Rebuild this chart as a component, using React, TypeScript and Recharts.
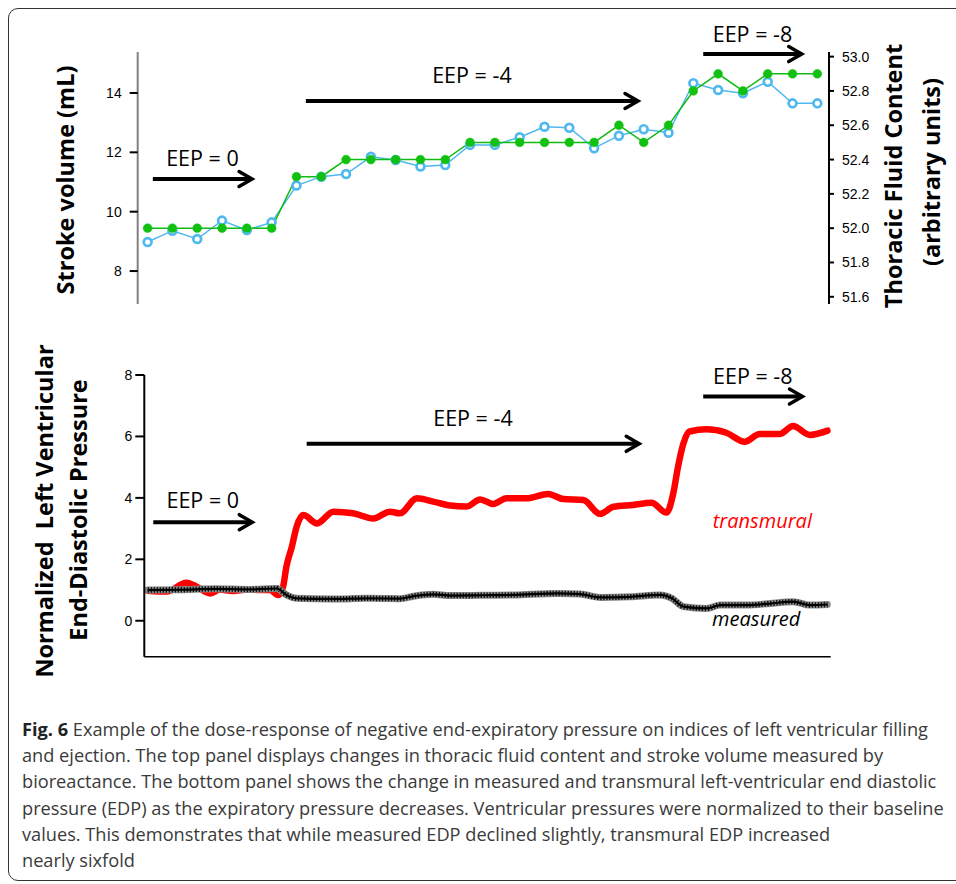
import React from 'react';
import {
  ComposedChart, LineChart, Line, XAxis, YAxis, ReferenceLine, ReferenceDot,
} from 'recharts';

// ---------- Top panel data ----------
const measurement = [1, 2, 3, 4, 5, 6, 7, 8, 9, 10, 11, 12, 13, 14, 15, 16, 17, 18, 19, 20, 21, 22, 23, 24, 25, 26, 27, 28];
const strokeVolume = [8.98, 9.36, 9.08, 9.70, 9.38, 9.64, 10.88, 11.18, 11.27, 11.85, 11.74, 11.52, 11.57, 12.25, 12.25, 12.51, 12.86, 12.83, 12.14, 12.56, 12.78, 12.66, 14.33, 14.10, 13.99, 14.38, 13.65, 13.65];
const thoracicFluid = [52.0, 52.0, 52.0, 52.0, 52.0, 52.0, 52.3, 52.3, 52.4, 52.4, 52.4, 52.4, 52.4, 52.5, 52.5, 52.5, 52.5, 52.5, 52.5, 52.6, 52.5, 52.6, 52.8, 52.9, 52.8, 52.9, 52.9, 52.9];
const svTicks = [8, 10, 12, 14];
const tfcTicks = [51.6, 51.8, 52.0, 52.2, 52.4, 52.6, 52.8, 53.0];

// ---------- Bottom panel data ----------
const transmuralTime = [0, 2.8, 5.7, 7.2, 9.2, 10.6, 12.5, 14.6, 16.5, 18.0, 19.2, 19.9, 20.4, 21.2, 21.9, 22.9, 24.9, 27.3, 30.2, 33.2, 35.6, 37.1, 39.6, 42.0, 44.5, 46.9, 48.9, 50.8, 52.8, 55.7, 58.9, 61.1, 64.1, 66.5, 68.5, 71.4, 74.1, 76.3, 77.3, 78.0, 78.8, 79.7, 82.2, 85.1, 87.8, 90.0, 93.0, 94.9, 97.4, 100];
const transmuralEDP = [0.98, 0.95, 1.24, 1.11, 0.89, 1.02, 0.97, 1.02, 1.0, 1.0, 0.84, 1.1, 1.76, 2.41, 3.06, 3.44, 3.17, 3.55, 3.50, 3.33, 3.55, 3.5, 3.99, 3.88, 3.75, 3.72, 3.95, 3.80, 3.99, 3.99, 4.13, 3.96, 3.93, 3.48, 3.71, 3.77, 3.84, 3.52, 4.15, 5.02, 5.78, 6.16, 6.23, 6.12, 5.83, 6.08, 6.08, 6.34, 6.05, 6.19];
const measuredTime = [0, 4.8, 10.1, 15.0, 19.0, 20.4, 21.9, 27.3, 32.2, 37.1, 39.1, 42.0, 44.5, 49.3, 53.8, 60.2, 63.6, 66.5, 71.0, 75.3, 77.1, 78.8, 82.2, 84.2, 88.1, 91.5, 94.9, 97.4, 100];
const measuredEDP = [1.0, 1.01, 1.04, 1.02, 1.05, 0.84, 0.73, 0.71, 0.73, 0.72, 0.80, 0.86, 0.82, 0.83, 0.84, 0.89, 0.87, 0.76, 0.78, 0.84, 0.73, 0.46, 0.40, 0.51, 0.51, 0.56, 0.62, 0.51, 0.53];
const edpTicks = [0, 2, 4, 6, 8];

const captionLines = [
  'Example of the dose-response of negative end-expiratory pressure on indices of left ventricular filling',
  'and ejection. The top panel displays changes in thoracic fluid content and stroke volume measured by',
  'bioreactance. The bottom panel shows the change in measured and transmural left-ventricular end diastolic',
  'pressure (EDP) as the expiratory pressure decreases. Ventricular pressures were normalized to their baseline',
  'values. This demonstrates that while measured EDP declined slightly, transmural EDP increased',
  'nearly sixfold',
];

const topData = measurement.map((m, i) => ({ m, sv: strokeVolume[i], tfc: thoracicFluid[i] }));
const transData = transmuralTime.map((t, i) => ({ t, v: transmuralEDP[i] }));
const measData = measuredTime.map((t, i) => ({ t, v: measuredEDP[i] }));

const SANS = '"Open Sans", "DejaVu Sans", sans-serif';
const TICKFONT = '"Liberation Sans Narrow", "Liberation Sans", Arial, sans-serif';

const Arrow = (props: any) => {
  const { x1, y1, x2, y2 } = props;
  return (
    <g>
      <line x1={x1} y1={y1} x2={x2 - 2} y2={y2} stroke="#000" strokeWidth={4} />
      <polyline
        points={`${x2 - 13},${y2 - 7.5} ${x2},${y2} ${x2 - 13},${y2 + 7.5}`}
        fill="none" stroke="#000" strokeWidth={3.5} strokeLinecap="round" strokeLinejoin="miter"
      />
    </g>
  );
};

const eepLabel = (value: string, offset: number) => ({
  value, position: 'top' as const, offset, fill: '#000', fontSize: 21.5, fontFamily: SANS,
});

export default function App() {
  return (
    <div style={{ position: 'relative', width: 956, height: 884, overflow: 'hidden', background: '#fff' }}>
      <style>{`html,body{margin:0;padding:0;overflow:hidden;background:#fff}`}</style>
      {/* frame */}
      <div style={{
        position: 'absolute', left: 8, top: 8, width: 1010, height: 873, boxSizing: 'border-box',
        border: '1.5px solid #333', borderRadius: 10,
      }} />

      {/* top panel */}
      <div style={{ position: 'absolute', left: 0, top: 0 }}>
        <ComposedChart width={956} height={330} data={topData} margin={{ top: 52, right: 67, bottom: 26, left: 77.7 }}>
          <XAxis dataKey="m" type="number" domain={[0.6, 28.47]} allowDataOverflow hide />
          <YAxis yAxisId="sv" orientation="left" width={60} domain={[6.89, 15.38]} allowDataOverflow
            ticks={svTicks} interval={0} tickSize={8} tickMargin={8}
            axisLine={{ stroke: '#808080', strokeWidth: 2 }} tickLine={{ stroke: '#000', strokeWidth: 2 }}
            tick={{ fontSize: 14, fill: '#000', fontFamily: TICKFONT }} />
          <YAxis yAxisId="tfc" orientation="right" width={60} domain={[51.558, 53.027]} allowDataOverflow
            ticks={tfcTicks} interval={0} tickSize={5} tickMargin={8}
            tickFormatter={(v: number) => v.toFixed(1)}
            axisLine={{ stroke: '#000', strokeWidth: 2 }} tickLine={{ stroke: '#000', strokeWidth: 2 }}
            tick={{ fontSize: 14, fill: '#000', fontFamily: TICKFONT }} />
          <Line yAxisId="sv" dataKey="sv" type="linear" stroke="#4fb8ee" strokeWidth={1.5}
            dot={{ r: 3.9, stroke: '#4fb8ee', strokeWidth: 2.7, fill: '#fff' }} isAnimationActive={false} />
          <Line yAxisId="tfc" dataKey="tfc" type="linear" stroke="#11bb11" strokeWidth={1.5}
            dot={{ r: 4.4, stroke: '#11c011', strokeWidth: 0.5, fill: '#11c011' }} isAnimationActive={false} />
          <ReferenceLine yAxisId="sv" ifOverflow="visible" segment={[{ x: 1.21, y: 11.10 }, { x: 5.21, y: 11.10 }]}
            shape={Arrow} label={eepLabel('EEP = 0', 13)} />
          <ReferenceLine yAxisId="sv" ifOverflow="visible" segment={[{ x: 7.38, y: 13.73 }, { x: 20.77, y: 13.73 }]}
            shape={Arrow} label={eepLabel('EEP = -4', 18)} />
          <ReferenceLine yAxisId="sv" ifOverflow="visible" segment={[{ x: 23.40, y: 15.31 }, { x: 27.37, y: 15.31 }]}
            shape={Arrow} label={eepLabel('EEP = -8', 12.5)} />
        </ComposedChart>
      </div>

      {/* bottom panel */}
      <div style={{ position: 'absolute', left: 0, top: 340 }}>
        <LineChart width={956} height={340} margin={{ top: 35, right: 125.3, bottom: 22.3, left: 84.3 }}>
          <XAxis dataKey="t" type="number" domain={[-0.5, 100.45]} allowDataOverflow height={1}
            tick={false} tickLine={false} axisLine={{ stroke: '#000', strokeWidth: 1.5 }} />
          <YAxis width={60} domain={[-1.17, 8]} allowDataOverflow ticks={edpTicks} interval={0}
            tickSize={9} tickMargin={3}
            axisLine={{ stroke: '#000', strokeWidth: 2 }} tickLine={{ stroke: '#000', strokeWidth: 2 }}
            tick={{ fontSize: 14, fill: '#000', fontFamily: TICKFONT }} />
          <Line data={transData} dataKey="v" type="monotone" stroke="#ff0000" strokeWidth={6.5}
            strokeLinecap="round" strokeLinejoin="round" dot={false} isAnimationActive={false} />
          <Line data={measData} dataKey="v" type="monotone" stroke="#8a8a8a" strokeWidth={7}
            strokeLinecap="round" dot={false} isAnimationActive={false} />
          <Line data={measData} dataKey="v" type="monotone" stroke="#111" strokeWidth={5.5}
            strokeDasharray="1.3 1.7" dot={false} isAnimationActive={false} />
          <Line data={measData} dataKey="v" type="monotone" stroke="#000" strokeWidth={2.2}
            dot={false} isAnimationActive={false} />
          <ReferenceLine ifOverflow="visible" segment={[{ x: 0.82, y: 3.21 }, { x: 15.38, y: 3.21 }]}
            shape={Arrow} label={eepLabel('EEP = 0', 14)} />
          <ReferenceLine ifOverflow="visible" segment={[{ x: 23.38, y: 5.76 }, { x: 72.29, y: 5.76 }]}
            shape={Arrow} label={eepLabel('EEP = -4', 18)} />
          <ReferenceLine ifOverflow="visible" segment={[{ x: 81.7, y: 7.30 }, { x: 96.3, y: 7.30 }]}
            shape={Arrow} label={eepLabel('EEP = -8', 12.7)} />
          <ReferenceDot x={90.4} y={3.24} r={0} fill="none" stroke="none" ifOverflow="visible"
            label={{ value: 'transmural', position: 'center', fill: '#ff0000', fontSize: 20, fontStyle: 'italic', fontFamily: SANS }} />
          <ReferenceDot x={89.5} y={0.06} r={0} fill="none" stroke="none" ifOverflow="visible"
            label={{ value: 'measured', position: 'center', fill: '#000', fontSize: 20, fontStyle: 'italic', fontFamily: SANS }} />
        </LineChart>
      </div>

      {/* axis titles */}
      <svg width={956} height={700} style={{ position: 'absolute', left: 0, top: 0, pointerEvents: 'none' }}>
        <g fontFamily={SANS} fontWeight={700} fill="#000" fontSize={23.5}>
          <text x={65} y={180} transform="rotate(-90 65 180)" textAnchor="middle" dominantBaseline="central">Stroke volume (mL)</text>
          <text x={893} y={176} transform="rotate(-90 893 176)" textAnchor="middle" dominantBaseline="central">Thoracic Fluid Content</text>
          <text x={931} y={172} transform="rotate(-90 931 172)" textAnchor="middle" dominantBaseline="central">(arbitrary units)</text>
          <text x={44} y={511} transform="rotate(-90 44 511)" textAnchor="middle" dominantBaseline="central" style={{ whiteSpace: 'pre' }}>{'Normalized  Left Ventricular'}</text>
          <text x={78} y={510} transform="rotate(-90 78 510)" textAnchor="middle" dominantBaseline="central">End-Diastolic Pressure</text>
        </g>
      </svg>

      {/* caption */}
      <div style={{ position: 'absolute', left: 22, top: 715.8, fontFamily: SANS, fontSize: 18.2, lineHeight: '26.3px', color: '#3a3a3a', whiteSpace: 'nowrap' }}>
        {captionLines.map((line, i) => (
          <div key={i}>
            {i === 0 ? <b style={{ color: '#222' }}>Fig. 6 </b> : null}
            {line}
          </div>
        ))}
      </div>
    </div>
  );
}
